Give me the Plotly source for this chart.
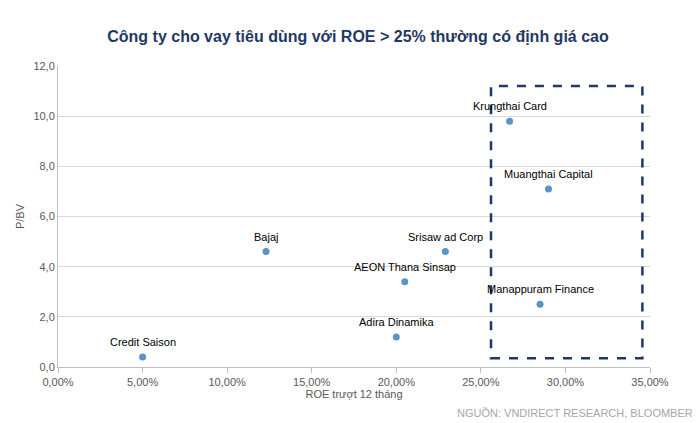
import plotly.graph_objects as go

companies = ["Credit Saison", "Bajaj", "Adira Dinamika", "AEON Thana Sinsap",
             "Srisaw ad Corp", "Krungthai Card", "Muangthai Capital", "Manappuram Finance"]
roe = [0.050, 0.123, 0.200, 0.205, 0.229, 0.267, 0.290, 0.285]
pbv = [0.4, 4.6, 1.2, 3.4, 4.6, 9.8, 7.1, 2.5]

fig = go.Figure()
fig.add_trace(go.Scatter(
    x=roe, y=pbv, mode="markers",
    marker=dict(color="#5b93c7", size=7),
    showlegend=False, hoverinfo="skip",
))
for name, x, y in zip(companies, roe, pbv):
    fig.add_annotation(x=x, y=y, text=name, showarrow=False, yshift=15,
                       font=dict(size=11, color="#000000"))

# highlight box for ROE > 25%
fig.add_shape(type="rect", x0=0.256, x1=0.3455, y0=0.35, y1=11.2,
              line=dict(color="#1f3864", width=2.5, dash="dash"))

fig.add_annotation(text="NGUỒN: VNDIRECT RESEARCH, BLOOMBERG", xref="paper", yref="paper",
                   x=1.09, y=-0.152, xanchor="right", yanchor="middle", showarrow=False,
                   font=dict(size=11, color="#a6a6a6"))

fig.update_layout(
    title=dict(text="<b>Công ty cho vay tiêu dùng với ROE > 25% thường có định giá cao</b>",
               x=0.5, y=0.945, font=dict(size=16, color="#1f3864")),
    width=700, height=423,
    font=dict(family="Liberation Sans, Arial", size=11, color="#595959"),
    separators=",.",
    plot_bgcolor="white", paper_bgcolor="white",
    margin=dict(l=43, r=58, t=58, b=64),
    xaxis=dict(range=[0, 0.35], dtick=0.05, tickformat=".2%",
               title=dict(text="ROE trượt 12 tháng", standoff=2, font=dict(size=11)),
               showgrid=False, showline=True, linecolor="#bfbfbf", ticks="outside",
               tickcolor="#bfbfbf", zeroline=False),
    yaxis=dict(range=[0, 12], dtick=2, tickformat=".1f",
               title=dict(text="P/BV", standoff=6, font=dict(size=11)),
               showgrid=True, gridcolor="#d9d9d9", showline=True, linecolor="#bfbfbf",
               zeroline=False),
)

fig.write_html("out.html")
